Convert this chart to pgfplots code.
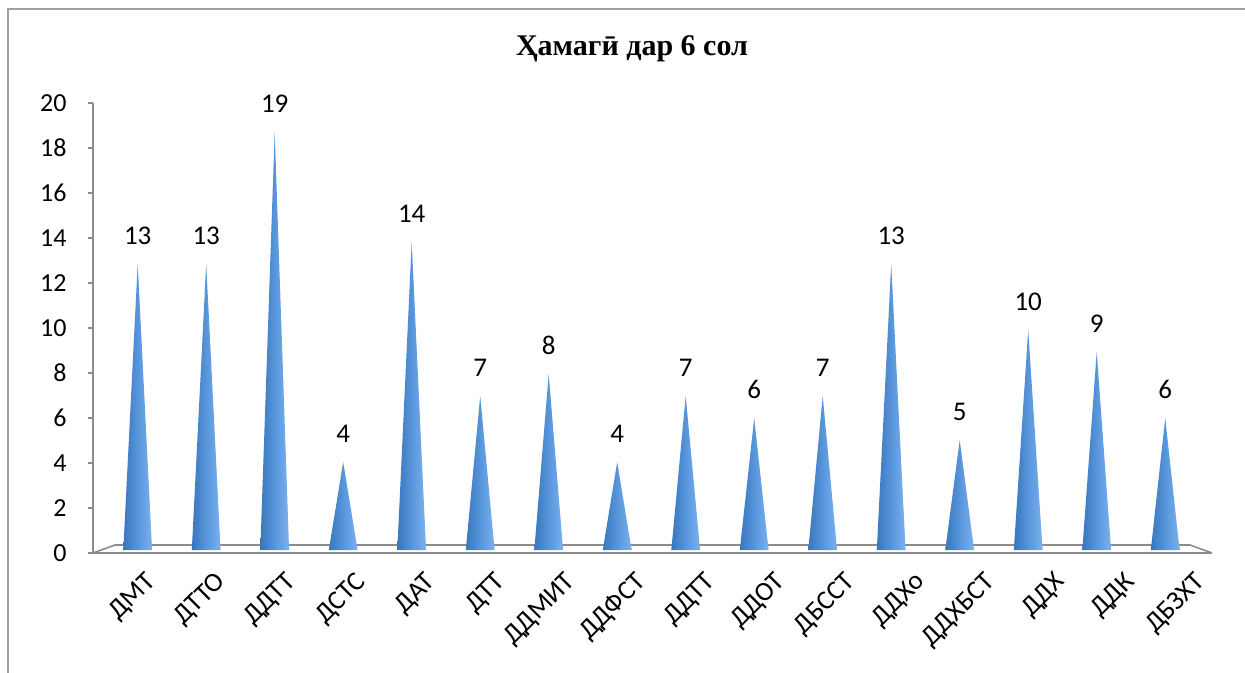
\documentclass[border=0pt]{standalone}
\usepackage{pgfplots}
\pgfplotsset{compat=1.18}
\usepackage{fontspec}
\setmainfont{Carlito}
\newfontfamily\titlefont{Liberation Serif}
\definecolor{axgray}{HTML}{8C8C8C}
\definecolor{bordergray}{HTML}{A0A0A0}
\definecolor{cA}{HTML}{1F4C86}
\definecolor{cB}{HTML}{3F7DC4}
\definecolor{cC}{HTML}{5E9BE0}
\definecolor{cD}{HTML}{82B4EE}
\definecolor{cE}{HTML}{5A8FCC}
\pgfdeclarehorizontalshading{coneshade}{100bp}{color(0bp)=(cA); color(30bp)=(cB); color(55bp)=(cC); color(78bp)=(cD); color(100bp)=(cE)}
\begin{document}
\begin{tikzpicture}
\path[use as bounding box] (0,0) rectangle (622.5pt,-336.5pt);
\draw[bordergray, line width=0.8pt] (4pt,-400pt) -- (4pt,-4.5pt) -- (700pt,-4.5pt);
\node[font=\titlefont\bfseries\fontsize{15}{17}\selectfont] at (316pt,-24.5pt) {Ҳамагӣ дар 6 сол};
% front axis
\begin{axis}[
  at={(46.5pt,-276.5pt)}, anchor=south west,
  width=559.5pt, height=225pt, scale only axis,
  xmin=-0.5, xmax=15.5, ymin=0, ymax=20,
  axis lines*=left,
  axis line style={-, draw=axgray, line width=0.8pt},
  tick style={draw=axgray, line width=0.8pt},
  tick align=outside,
  major tick length=2.5pt,
  ytick={0,2,...,20},
  xtick={0,...,15},
  xtick style={draw=none},
  minor xtick={-0.5,0.5,...,15.5},
  minor tick length=3.5pt,
  xticklabels={ДМТ,ДТТО,ДДТТ,ДСТС,ДАТ,ДТТ,ДДМИТ,ДДФСТ,ДДТТ,ДДОТ,ДБССТ,ДДХо,ДДХБСТ,ДДХ,ДДК,ДБЗХТ},
  xticklabel style={rotate=45, anchor=north east, inner sep=0pt, yshift=-10pt, xshift=1.5pt, font=\fontsize{13.5}{15}\selectfont},
  yticklabel style={font=\fontsize{13}{15}\selectfont, inner sep=0pt, xshift=-10.5pt},
  /pgf/number format/assume math mode=true,
  clip=false,
]
\draw[axgray, line width=0.8pt] (axis cs:-0.5,0) -- (axis cs:-0.185,0.356) -- (axis cs:15.185,0.356) -- (axis cs:15.5,0);
\end{axis}
% back wall axis with cones
\begin{axis}[
  at={(51.725pt,-275pt)}, anchor=south west,
  width=548pt, height=220pt, scale only axis,
  xmin=-0.5, xmax=15.5, ymin=0, ymax=20,
  hide axis, clip=false,
  conestyle/.style={draw=none, shade, shading=coneshade},
  /pgf/number format/assume math mode=true,
]
\addplot[conestyle] coordinates {(-0.21,0) (0,13) (0.21,0)};
\addplot[conestyle] coordinates {(0.79,0) (1,13) (1.21,0)};
\addplot[conestyle] coordinates {(1.79,0) (2,19) (2.21,0)};
\addplot[conestyle] coordinates {(2.79,0) (3,4) (3.21,0)};
\addplot[conestyle] coordinates {(3.79,0) (4,14) (4.21,0)};
\addplot[conestyle] coordinates {(4.79,0) (5,7) (5.21,0)};
\addplot[conestyle] coordinates {(5.79,0) (6,8) (6.21,0)};
\addplot[conestyle] coordinates {(6.79,0) (7,4) (7.21,0)};
\addplot[conestyle] coordinates {(7.79,0) (8,7) (8.21,0)};
\addplot[conestyle] coordinates {(8.79,0) (9,6) (9.21,0)};
\addplot[conestyle] coordinates {(9.79,0) (10,7) (10.21,0)};
\addplot[conestyle] coordinates {(10.79,0) (11,13) (11.21,0)};
\addplot[conestyle] coordinates {(11.79,0) (12,5) (12.21,0)};
\addplot[conestyle] coordinates {(12.79,0) (13,10) (13.21,0)};
\addplot[conestyle] coordinates {(13.79,0) (14,9) (14.21,0)};
\addplot[conestyle] coordinates {(14.79,0) (15,6) (15.21,0)};
\addplot[draw=none, mark=none, nodes near coords,
  nodes near coords style={anchor=south, inner sep=0pt, yshift=9.5pt, font=\fontsize{13.5}{15}\selectfont, text=black}]
  coordinates {(0,13) (1,13) (2,19) (3,4) (4,14) (5,7) (6,8) (7,4) (8,7) (9,6) (10,7) (11,13) (12,5) (13,10) (14,9) (15,6)};
\end{axis}
\end{tikzpicture}
\end{document}
